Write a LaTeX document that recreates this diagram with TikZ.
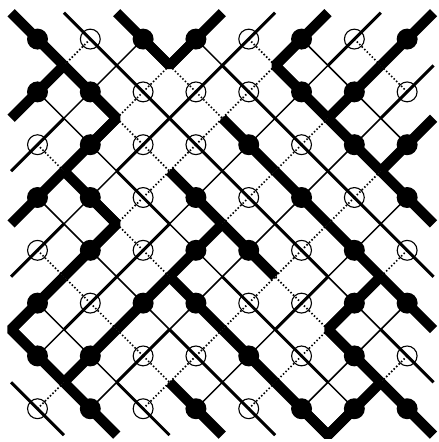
\documentclass[tikz,border=0pt]{standalone}
\begin{document}
\begin{tikzpicture}[x=0.5cm, y=-0.5cm,
    full/.style={circle, fill, inner sep=0pt, minimum size=11.3pt},
    ring/.style={circle, draw, line width=0.6pt, inner sep=0pt, minimum size=10.7pt},
    full-main/.style={line width=5.5pt},
    full-cross/.style={line width=0.8pt},
    ring-main/.style={line width=1.6pt},
    ring-cross/.style={line width=0.9pt, dash pattern=on 0.8pt off 1.1pt}]
  \useasboundingbox (-0.42,-0.48) rectangle (16.17,16.26);
  \foreach \p in {0,...,8}
    \foreach \q in {0,...,8}
      \coordinate (v-\p-\q) at (2*\p,2*\q);
  % site: column/row/kind/direction (0 = \, 1 = /)
  \foreach \i/\j/\k/\e in {
      0/0/full/0, 1/0/ring/0, 2/0/full/0, 3/0/full/1, 4/0/ring/1, 5/0/full/1, 6/0/ring/1, 7/0/full/1,
      0/1/full/1, 1/1/full/0, 2/1/ring/0, 3/1/ring/1, 4/1/ring/0, 5/1/full/0, 6/1/full/1, 7/1/ring/1,
      0/2/ring/1, 1/2/full/1, 2/2/ring/1, 3/2/ring/0, 4/2/full/0, 5/2/ring/0, 6/2/full/0, 7/2/full/1,
      0/3/full/1, 1/3/full/0, 2/3/ring/0, 3/3/full/0, 4/3/ring/0, 5/3/full/0, 6/3/ring/0, 7/3/full/0,
      0/4/ring/1, 1/4/full/1, 2/4/ring/1, 3/4/full/1, 4/4/full/0, 5/4/ring/0, 6/4/full/0, 7/4/ring/0,
      0/5/full/1, 1/5/ring/1, 2/5/full/1, 3/5/full/0, 4/5/ring/0, 5/5/ring/1, 6/5/full/1, 7/5/full/0,
      0/6/full/0, 1/6/full/1, 2/6/ring/1, 3/6/ring/0, 4/6/full/0, 5/6/ring/0, 6/6/full/0, 7/6/ring/0,
      0/7/ring/0, 1/7/full/0, 2/7/ring/0, 3/7/full/0, 4/7/ring/0, 5/7/full/0, 6/7/full/1, 7/7/full/0}{
    \pgfmathtruncatemacro\ma{\i+\e}
    \pgfmathtruncatemacro\mb{\i+1-\e}
    \pgfmathtruncatemacro\jj{\j+1}
    \node[\k] (s-\i-\j) at (2*\i+1,2*\j+1) {};
    \draw[\k-main] (v-\ma-\j) -- (s-\i-\j.center) -- (v-\mb-\jj);
    \ifnum\j>0 \ifnum\mb>0 \ifnum\mb<8
      \draw[\k-cross] (s-\i-\j.center) -- (v-\mb-\j);
    \fi\fi\fi
    \ifnum\jj<8 \ifnum\ma>0 \ifnum\ma<8
      \draw[\k-cross] (s-\i-\j.center) -- (v-\ma-\jj);
    \fi\fi\fi
  }
  % corners of the heavy paths
  \foreach \a/\b/\c in {2-0/3-1/3-0, 5-0/5-1/5-1, 1-1/2-2/1-2, 1-3/2-4/1-4,
      0-5/0-6/0-6, 6-5/6-6/6-6, 5-7/6-8/6-7}
    \draw[full-main, line join=bevel] (s-\a.center) -- (v-\b) -- (s-\c.center);
\end{tikzpicture}
\end{document}
